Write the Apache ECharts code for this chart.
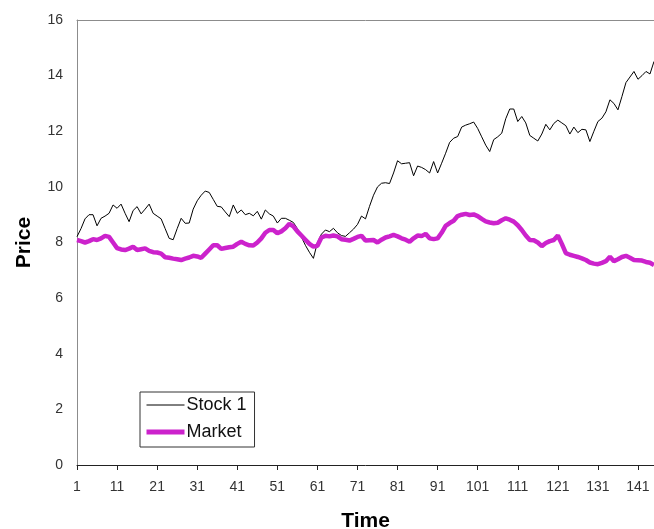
<!DOCTYPE html>
<html>
<head>
<meta charset="utf-8">
<script src="https://cdn.jsdelivr.net/npm/echarts@6/dist/echarts.min.js"></script>
<style>html,body{margin:0;padding:0;background:#fff;}#c{width:654px;height:529px;}</style>
</head>
<body>
<div id="c"></div>
<script>
const stock1 = [8.21,8.5,8.85,9.0,9.0,8.6,8.87,8.95,9.05,9.35,9.23,9.38,9.05,8.75,9.15,9.29,9.03,9.2,9.38,9.05,
8.95,8.85,8.5,8.15,8.1,8.5,8.87,8.69,8.7,9.2,9.5,9.7,9.85,9.8,9.55,9.3,9.28,9.1,8.93,9.35,
9.05,9.17,9.0,9.05,8.96,9.12,8.84,9.17,9.03,8.95,8.7,8.87,8.87,8.8,8.72,8.5,8.2,7.9,7.65,7.43,
8.0,8.3,8.45,8.39,8.51,8.35,8.25,8.22,8.35,8.48,8.65,8.95,8.85,9.3,9.7,10.0,10.13,10.15,10.12,10.5,
10.94,10.83,10.85,10.87,10.4,10.75,10.7,10.62,10.5,10.91,10.5,10.85,11.21,11.6,11.75,11.81,12.15,12.22,12.27,12.33,
12.1,11.8,11.5,11.27,11.7,11.8,11.93,12.45,12.8,12.8,12.35,12.53,12.3,11.85,11.75,11.65,11.9,12.25,12.05,12.28,
12.4,12.3,12.2,11.9,12.15,11.95,12.07,12.05,11.63,12.0,12.35,12.47,12.7,13.13,13.0,12.77,13.25,13.75,13.95,14.15,
13.87,14.0,14.15,14.06,14.51];
const market = [8.09,8.05,8.0,8.05,8.12,8.09,8.15,8.24,8.2,8.0,7.8,7.75,7.73,7.78,7.85,7.73,7.76,7.79,7.7,7.65,
7.64,7.6,7.47,7.45,7.42,7.4,7.37,7.42,7.46,7.52,7.5,7.45,7.6,7.75,7.9,7.9,7.77,7.8,7.83,7.85,
7.95,8.03,7.95,7.9,7.89,8.0,8.15,8.35,8.45,8.45,8.33,8.4,8.51,8.67,8.58,8.4,8.25,8.1,7.95,7.85,
7.88,8.18,8.24,8.22,8.25,8.22,8.12,8.1,8.07,8.13,8.2,8.24,8.07,8.08,8.09,8.0,8.1,8.18,8.22,8.27,
8.22,8.15,8.1,8.03,8.15,8.25,8.23,8.31,8.15,8.12,8.15,8.35,8.6,8.7,8.78,8.95,9.0,9.03,8.99,9.01,
8.95,8.85,8.76,8.72,8.69,8.71,8.8,8.87,8.82,8.75,8.62,8.45,8.25,8.09,8.08,8.0,7.87,7.98,8.05,8.09,
8.25,7.95,7.62,7.56,7.52,7.48,7.43,7.37,7.28,7.24,7.22,7.27,7.33,7.49,7.33,7.4,7.48,7.52,7.45,7.37,
7.36,7.35,7.3,7.27,7.19];
const timeCategories = stock1.map((_, i) => String(i + 1));
const yTicks = [0, 2, 4, 6, 8, 10, 12, 14, 16];
const seriesNames = ['Stock 1', 'Market'];

const chart = echarts.init(document.getElementById('c'), null, {renderer: 'canvas'});
const font = "'Liberation Sans', Arial, sans-serif";
chart.setOption({
  animation: false,
  backgroundColor: '#ffffff',
  grid: {left: 77, top: 20, right: 0, bottom: 64, outerBoundsMode: 'none', containLabel: false, show: false},
  legend: {
    orient: 'vertical', left: 140, top: 392,
    data: [
      {name: seriesNames[0], lineStyle: {width: 1, color: '#000'}},
      {name: seriesNames[1], lineStyle: {width: 5, color: '#cc22cc'}}
    ],
    itemWidth: 38, itemHeight: 14, itemGap: 7,
    padding: [3, 8, 5, 4],
    borderColor: '#333', borderWidth: 1, borderRadius: 0,
    itemStyle: {opacity: 0},
    textStyle: {fontFamily: font, fontSize: 18, lineHeight: 20, color: '#111', padding: [0, 0, 0, -3]}
  },
  xAxis: [{
    type: 'category', data: timeCategories, boundaryGap: false,
    name: 'Time', nameLocation: 'middle', nameGap: 46,
    nameTextStyle: {fontFamily: font, fontSize: 21, fontWeight: 'bold', color: '#000'},
    axisLine: {lineStyle: {color: '#222', width: 1}},
    axisTick: {interval: 9, length: 5, lineStyle: {color: '#222'}},
    axisLabel: {interval: 9, fontFamily: font, fontSize: 14, color: '#333', margin: 15},
    splitLine: {show: false}
  }, {
    type: 'category', data: timeCategories, boundaryGap: false, position: 'top',
    axisLine: {show: true, lineStyle: {color: '#8c8c8c', width: 1}},
    axisTick: {show: false}, axisLabel: {show: false}, splitLine: {show: false}
  }],
  yAxis: {
    type: 'value', min: yTicks[0], max: yTicks[yTicks.length - 1], interval: 2,
    name: 'Price', nameLocation: 'middle', nameGap: 42, nameRotate: 90,
    nameTextStyle: {fontFamily: font, fontSize: 21, fontWeight: 'bold', color: '#000'},
    axisLine: {show: true, lineStyle: {color: '#8c8c8c'}},
    axisTick: {show: false},
    axisLabel: {fontFamily: font, fontSize: 14, color: '#333', margin: 14},
    splitLine: {show: false}
  },
  series: [
    {name: seriesNames[0], type: 'line', data: stock1, symbol: 'none', lineStyle: {color: '#000', width: 1}, itemStyle: {color: '#000'}},
    {name: seriesNames[1], type: 'line', data: market, symbol: 'none', lineStyle: {color: '#cc22cc', width: 4.5}, itemStyle: {color: '#cc22cc'}}
  ]
});
</script>
</body>
</html>
